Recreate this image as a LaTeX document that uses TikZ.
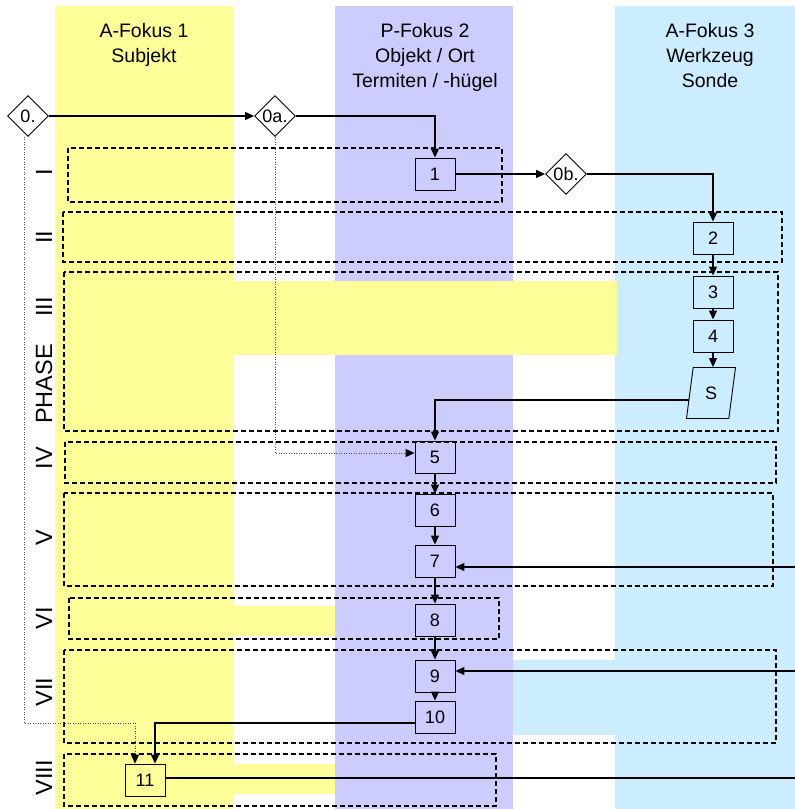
\documentclass[tikz,border=0pt]{standalone}
\usepackage{fontspec}
\setmainfont{Liberation Sans}
\usetikzlibrary{shapes.geometric,arrows.meta}
\definecolor{gelb}{RGB}{255,255,153}
\definecolor{lila}{RGB}{204,204,255}
\definecolor{hellblau}{RGB}{204,236,255}

\begin{document}
\begin{tikzpicture}[x=1pt,y=-1pt,
    box/.style={draw, rectangle, line width=0.9pt, minimum width=40pt, minimum height=32pt, inner sep=0pt, font=\fontsize{18}{20}\selectfont},
    dia/.style={draw, diamond, line width=0.9pt, minimum width=41pt, minimum height=41pt, inner sep=0pt, font=\fontsize{18}{20}\selectfont},
    head/.style={anchor=north, align=center, inner sep=0pt, font=\fontsize{19.5}{25}\selectfont},
    phase/.style={rotate=90, inner sep=0pt, font=\fontsize{23.5}{25}\selectfont},
    phasebox/.style={draw, dash pattern=on 5pt off 3pt, line width=1.1pt},
    flow/.style={-{Triangle[length=9pt,width=8pt]}, line width=1.3pt},
    hint/.style={-{Triangle[length=9pt,width=8pt,color=black]}, dash pattern=on 1pt off 1.5pt, line width=1pt, black!70}]
    \useasboundingbox (0,0) rectangle (795,809);

    % columns
    \fill[gelb] (55,6) rectangle (234,809);
    \fill[lila] (335,6) rectangle (513,809);
    \fill[hellblau] (615,6) rectangle (795,809);
    \fill[gelb] (234,281) rectangle (617,355);
    \fill[gelb] (234,606) rectangle (335,636);
    \fill[gelb] (234,764) rectangle (335,794);
    \fill[hellblau] (513,660) rectangle (615,735);

    \node[head] (f1) at (144,23) {A-Fokus 1\\Subjekt};
    \node[head] (f2) at (425,23) {P-Fokus 2\\Objekt / Ort\\Termiten / -hügel};
    \node[head] (f3) at (710,23) {A-Fokus 3\\Werkzeug\\Sonde};

    % phases
    \draw[phasebox] (68,148) rectangle (502,202);
    \draw[phasebox] (63,212) rectangle (782,262);
    \draw[phasebox] (64,272) rectangle (778,431);
    \draw[phasebox] (65,442) rectangle (776,483);
    \draw[phasebox] (64,493) rectangle (773,586);
    \draw[phasebox] (69,598) rectangle (499,639);
    \draw[phasebox] (64,650) rectangle (776,743);
    \draw[phasebox] (64,754) rectangle (496,806);

    \node[phase] (pI) at (44,172) {I};
    \node[phase] (pII) at (44,237) {II};
    \node[phase] (pIII) at (44,307) {III};
    \node[phase] (ph) at (44,384) {PHASE};
    \node[phase] (pIV) at (44,458) {IV};
    \node[phase] (pV) at (44,538) {V};
    \node[phase] (pVI) at (44,618) {VI};
    \node[phase] (pVII) at (44,692) {VII};
    \node[phase] (pVIII) at (44,778) {VIII};

    % steps
    \node[dia] (d0) at (28,116) {0.};
    \node[dia] (d0a) at (275,116) {0a.};
    \node[dia] (d0b) at (566,174) {0b.};
    \node[box] (b1) at (435,174) {1};
    \node[box] (b2) at (713,238) {2};
    \node[box] (b3) at (713,292) {3};
    \node[box] (b4) at (713,336) {4};
    \node[draw, trapezium, trapezium left angle=80, trapezium right angle=100, trapezium stretches=true,
          minimum width=49pt, minimum height=51pt, inner sep=0pt, line width=0.9pt,
          font=\fontsize{18}{20}\selectfont] (s) at (711,393) {S};
    \node[box] (b5) at (435,457) {5};
    \node[box] (b6) at (435,510) {6};
    \node[box] (b7) at (435,561) {7};
    \node[box] (b8) at (435,620) {8};
    \node[box] (b9) at (435,676) {9};
    \node[box] (b10) at (435,717) {10};
    \node[box] (b11) at (145,780) {11};

    \coordinate (r7) at (795,567);
    \coordinate (r9) at (795,671);
    \coordinate (r11) at (795,778);
    \coordinate (k10) at (155,723);
    \coordinate (k0) at (135,723);

    \draw[flow] (d0) -- (d0a);
    \draw[flow] (d0a) -| (b1);
    \draw[flow] (b1) -- (d0b);
    \draw[flow] (d0b) -| (b2);
    \draw[flow] (b2) -- (b3);
    \draw[flow] (b3) -- (b4);
    \draw[flow] (b4.south) -- (b4.south |- s.north);
    \draw[flow] ([yshift=-7pt]s.west) -| (b5);
    \draw[flow] (b5) -- (b6);
    \draw[flow] (b6) -- (b7);
    \draw[flow] (b7) -- (b8);
    \draw[flow] (b8) -- (b9);
    \draw[flow] (b9) -- (b10);
    \draw[flow] (r7) -- (r7 -| b7.east);
    \draw[flow] (r9) -- (r9 -| b9.east);
    \draw[flow] (k10 -| b10.west) -- (k10) -- (k10 |- b11.north);
    \draw[line width=1.3pt] (b11.east |- r11) -- (r11);
    \draw[hint] (d0a) |- ([yshift=4pt]b5.west);
    \draw[hint] ([xshift=-4pt]d0.south) |- (k0) -- (k0 |- b11.north);
\end{tikzpicture}
\end{document}
